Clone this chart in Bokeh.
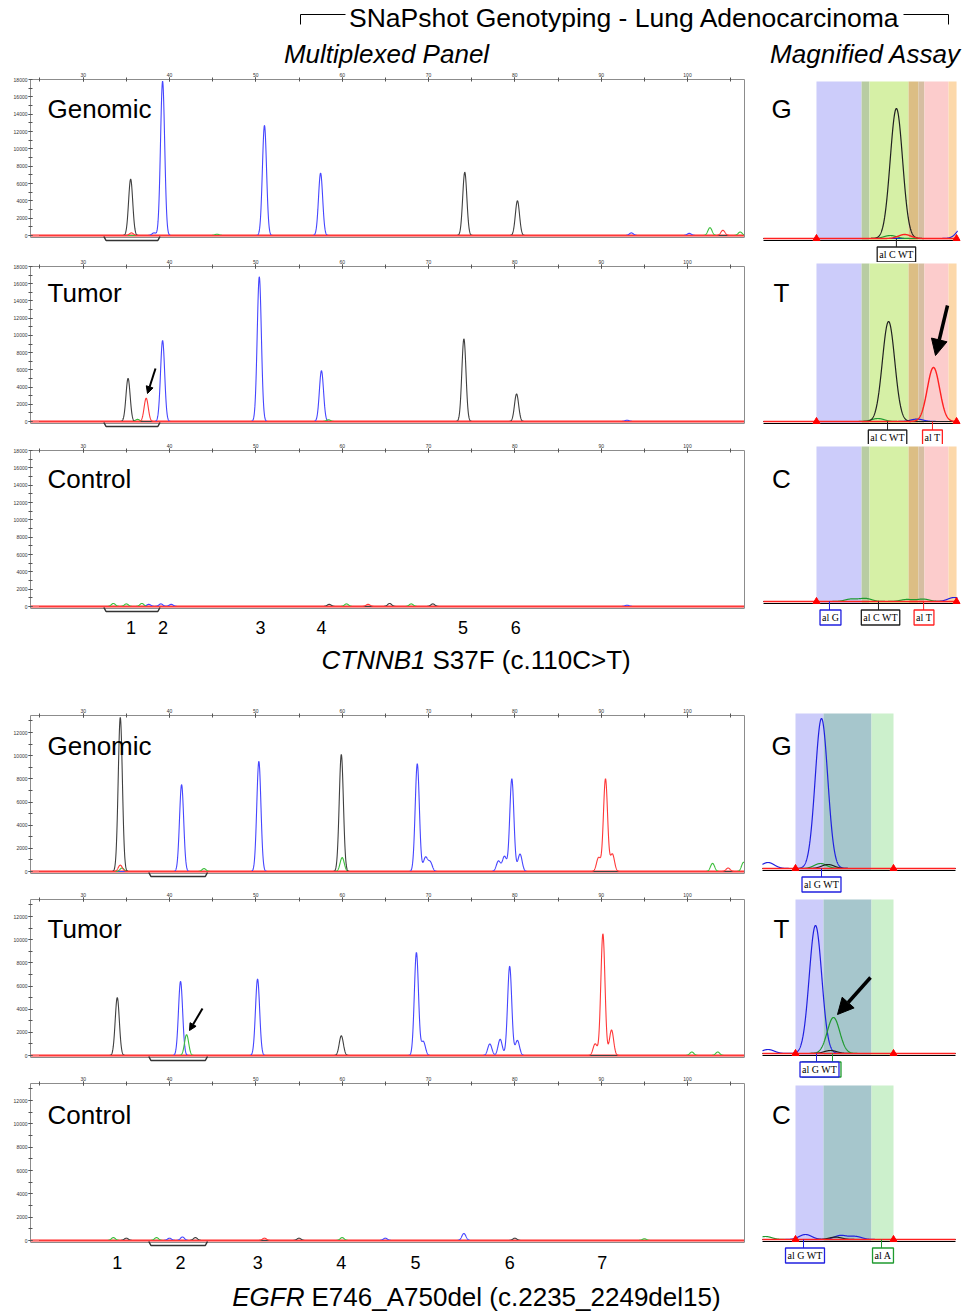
import numpy as np
from bokeh.plotting import figure
from bokeh.models import Range1d, LinearAxis, FixedTicker, Label, Arrow, NormalHead
from bokeh.layouts import column, row
from bokeh.embed import file_html
from bokeh.resources import INLINE
from bokeh.core.properties import value

FONT = "Liberation Sans"
SERIF = "Liberation Serif"

# ---------------------------------------------------------------- data
# Multiplexed panel peaks: size (nt), height (RFU), dye
ct_gen_pos = [35.5, 35.6, 38.2, 39.2, 51.0, 57.5, 74.2, 80.3, 93.5, 100.2, 102.6, 104.1, 106.1, 45.5]
ct_gen_hgt = [6500, 300, 300, 17800, 12700, 7200, 7300, 4000, 300, 250, 900, 600, 400, 150]
ct_gen_dye = ["black", "red", "blue", "blue", "blue", "blue", "black", "black", "blue", "blue", "green", "red", "green", "green"]

ct_tum_pos = [35.2, 37.3, 39.2, 50.4, 57.6, 74.1, 80.2, 36.3, 58.4, 93.0]
ct_tum_hgt = [5000, 2700, 9400, 16800, 5900, 9600, 3200, 250, 200, 150]
ct_tum_dye = ["black", "red", "blue", "blue", "blue", "black", "black", "green", "green", "blue"]

ct_ctl_pos = [33.5, 35.0, 36.8, 37.6, 39.0, 40.2, 58.5, 60.5, 63.0, 65.5, 68.0, 70.5, 93.0]
ct_ctl_hgt = [350, 300, 350, 250, 300, 250, 250, 300, 250, 350, 300, 300, 150]
ct_ctl_dye = ["green", "green", "green", "blue", "blue", "blue", "black", "green", "red", "black", "green", "black", "blue"]

eg_gen_pos = [34.3, 34.3, 34.5, 41.4, 50.35, 59.9, 60.0, 68.7, 69.65, 70.2, 78.1, 78.8, 79.65, 80.6,
              89.7, 90.5, 91.3, 102.9, 104.7, 106.5, 44.0]
eg_gen_hgt = [13300, 550, 300, 7500, 9500, 10100, 1200, 9300, 1200, 800, 900, 1300, 8000, 1500,
              1200, 8000, 1500, 700, 300, 800, 250]
eg_gen_dye = ["black", "red", "green", "blue", "blue", "black", "green", "blue", "blue", "blue", "blue", "blue", "blue", "blue",
              "red", "red", "red", "green", "red", "green", "green"]

eg_tum_pos = [33.95, 41.28, 41.98, 50.2, 59.9, 68.6, 69.4, 77.1, 78.3, 79.4, 80.3, 89.3, 90.2, 91.2, 100.5, 103.5]
eg_tum_hgt = [5000, 6400, 1800, 6600, 1700, 8900, 1200, 1000, 1400, 7700, 1300, 1000, 10500, 2200, 300, 300]
eg_tum_dye = ["black", "blue", "green", "blue", "black", "blue", "blue", "blue", "blue", "blue", "blue", "red", "red", "red", "green", "green"]

eg_ctl_pos = [33.5, 35.0, 38.5, 40.0, 41.5, 43.0, 51.0, 55.0, 60.0, 65.0, 74.1, 80.0, 95.0]
eg_ctl_hgt = [250, 200, 250, 200, 300, 250, 200, 200, 250, 200, 600, 200, 150]
eg_ctl_dye = ["green", "black", "green", "blue", "blue", "black", "red", "black", "green", "blue", "blue", "black", "green"]

# marker numbers under the multiplexed panels
ct_marker_pos = [35.54, 39.24, 50.55, 57.6, 74.0, 80.1]
ct_marker_txt = ["1", "2", "3", "4", "5", "6"]
eg_marker_pos = [33.95, 41.28, 50.23, 59.88, 68.49, 79.42, 90.12]
eg_marker_txt = ["1", "2", "3", "4", "5", "6", "7"]

# region magnified in the right-hand assays (nt)
ct_region = [32.4, 38.9]
eg_region = [37.6, 44.4]

# magnified assay: allele bins (nt) and their colours
ct_bin_left = [31.62, 33.81, 34.19, 36.09, 36.57, 36.86, 38.03]
ct_bin_right = [33.81, 34.19, 36.09, 36.57, 36.86, 38.03, 38.42]
ct_bin_col = ["#ccccfa", "#b8cca2", "#d6f0a6", "#dcbe84", "#d6bea2", "#fccccc", "#fcd8aa"]
eg_bin_left = [40.6, 41.72, 43.64]
eg_bin_right = [41.72, 43.64, 44.52]
eg_bin_col = ["#ccccfa", "#a6c6cc", "#ccf0cc"]

# magnified assay peaks
ctm_gen_pos = [35.5, 35.2, 35.9, 38.8]
ctm_gen_hgt = [6500, 150, 200, 700]
ctm_gen_dye = ["black", "green", "red", "blue"]
ctm_tum_pos = [35.12, 37.30, 34.6, 36.5]
ctm_tum_hgt = [5000, 2700, 150, 120]
ctm_tum_dye = ["black", "red", "green", "blue"]
ctm_ctl_pos = [33.3, 34.0, 36.0, 36.8, 38.3]
ctm_ctl_hgt = [120, 150, 100, 120, 200]
ctm_ctl_dye = ["green", "green", "green", "green", "blue"]

egm_gen_pos = [41.64, 39.5, 41.6, 41.9]
egm_gen_hgt = [7500, 300, 250, 200]
egm_gen_dye = ["blue", "blue", "green", "black"]
egm_tum_pos = [41.4, 42.12, 39.5, 42.0]
egm_tum_hgt = [6400, 1800, 200, 150]
egm_tum_dye = ["blue", "green", "blue", "black"]
egm_ctl_pos = [41.0, 42.4, 43.0, 39.4, 42.2]
egm_ctl_hgt = [250, 200, 150, 150, 120]
egm_ctl_dye = ["blue", "blue", "blue", "green", "black"]

# allele call labels: call position (nt), label-box centre (nt), text, dye
ctm_gen_lab = [(35.5, 35.5, "al C WT", "black")]
ctm_tum_lab = [(35.07, 35.07, "al C WT", "black"), (37.25, 37.25, "al T", "red")]
ctm_ctl_lab = [(32.25, 32.3, "al G", "blue"), (34.63, 34.73, "al C WT", "black"), (36.82, 36.84, "al T", "red")]
egm_gen_lab = [(41.64, 41.64, "al G WT", "blue")]
egm_tum_lab = [(42.08, 41.64, "al G WT", "green"), (41.44, 41.56, "al G WT", "blue")]
egm_ctl_lab = [(40.92, 40.98, "al G WT", "blue"), (44.04, 44.1, "al A", "green")]

MAIN_COL = {"blue": "#4646ff", "green": "#3cbe3c", "black": "#404040", "red": "#ff3838"}
MAG_COL = {"blue": "#2020e0", "green": "#1f9a2f", "black": "#202020", "red": "#ff2020"}
ORDER = ["blue", "green", "black", "red"]

XLO, XHI = 23.9, 106.6
MAIN_W, MAG_W = 755, 213


def trace(x, pos, hgt, dye, which, sigma):
    y = np.zeros_like(x)
    for p_, h_, d_ in zip(pos, hgt, dye):
        if d_ == which:
            y += h_ * np.exp(-0.5 * ((x - p_) / sigma) ** 2)
    return y


def base_fig(**kw):
    p = figure(output_backend="svg", toolbar_location=None, outline_line_color=None, **kw)
    p.frame_align = False
    p.grid.visible = False
    return p


def main_panel(row_top, row_bot, frame_top, base, ymax, ytick_max, pos, hgt, dye, name, name_y,
               region, markers=None, caption=None, arrow=None):
    H = row_bot - row_top
    ypp = ymax / (base - frame_top)
    ylo = -(row_bot - base) * ypp
    xpp = (XHI - XLO) / (744 - 30)

    def Y(px):
        return (base - px) * ypp

    def X(px):
        return XLO + (px - 30) * xpp

    p = base_fig(width=MAIN_W, height=H, x_range=Range1d(XLO, XHI), y_range=Range1d(ylo, ymax),
                 x_axis_location="above",
                 min_border_left=30, min_border_right=11, min_border_top=frame_top - row_top,
                 min_border_bottom=0)
    xa = p.xaxis[0]
    xa.ticker = FixedTicker(ticks=list(range(30, 101, 10)), minor_ticks=list(range(25, 107, 5)))
    ya = p.yaxis[0]
    ya.ticker = FixedTicker(ticks=list(range(0, ytick_max + 1, 2000)),
                            minor_ticks=list(range(0, int(ymax), 1000)))
    ya.bounds = (Y(base + 2), ymax)
    for ax in (xa, ya):
        ax.major_label_text_font_size = "5px"
        ax.major_label_text_color = "#333333"
        ax.major_label_standoff = 1
        ax.axis_line_color = "#8c8c8c"
        ax.major_tick_line_color = "#555555"
        ax.minor_tick_line_color = "#555555"
        ax.major_tick_in = 2
        ax.major_tick_out = 2
        ax.minor_tick_in = 2
        ax.minor_tick_out = 2
    ra = LinearAxis(ticker=FixedTicker(ticks=[]), major_label_text_font_size="0px",
                    major_tick_in=0, major_tick_out=0, minor_tick_in=0, minor_tick_out=0,
                    axis_line_color="#8c8c8c", bounds=(Y(base + 2), ymax))
    p.add_layout(ra, "right")
    # bottom line of the plot box
    p.segment(x0=[XLO], x1=[XHI], y0=[Y(base + 2)], y1=[Y(base + 2)], line_color="#8c8c8c", line_width=1)
    # thick baseline
    p.segment(x0=[XLO], x1=[XHI], y0=[0], y1=[0], line_color="#ff7070", line_width=2.5)

    x = np.linspace(XLO + 1.0, XHI, 4000)
    for d in ORDER:
        y = trace(x, pos, hgt, dye, d, 0.24)
        p.line(x, y, line_color=MAIN_COL[d], line_width=1.1)

    # bracket under magnified region
    by = Y(base + 5)
    bt = Y(base + 1)
    p.line([region[0], region[0] + 0.25, region[1] - 0.25, region[1]], [bt, by, by, bt],
           line_color="#333333", line_width=1.5)

    p.text(x=[X(47)], y=[Y(name_y)], text=[name], text_font=value(FONT),
           text_font_size="26px", text_baseline="middle", text_align="left", text_color="black")

    if markers is not None:
        mpos, mtxt, mpx = markers
        p.text(x=mpos, y=[Y(mpx)] * len(mpos), text=mtxt, text_font=value(FONT),
               text_font_size="18px", text_baseline="middle", text_align="center", text_color="black")
    if caption is not None:
        ital, rest, end_px, start_px, cy = caption
        p.text(x=[X(end_px)], y=[Y(cy)], text=[ital], text_font=value(FONT), text_font_style="italic",
               text_font_size="26px", text_baseline="middle", text_align="right", text_color="black")
        p.text(x=[X(start_px)], y=[Y(cy)], text=[rest], text_font=value(FONT),
               text_font_size="26px", text_baseline="middle", text_align="left", text_color="black")
    if arrow is not None:
        (sx, sy), (ex, ey) = arrow
        p.add_layout(Arrow(end=NormalHead(size=7, fill_color="black", line_color="black"),
                           x_start=X(sx), y_start=Y(sy), x_end=X(ex), y_end=Y(ey),
                           line_width=2, line_color="black"))
    return p


def mag_panel(row_top, row_bot, shade_top, base, x0, ppb, bl, br, bc, pos, hgt, dye, letter, letter_y,
              labels, sigma, x_start_px, x_end_px, arrow=None):
    H = row_bot - row_top
    ypp = 50.0
    ylo = -(row_bot - base) * ypp
    yhi = (base - row_top) * ypp
    xhi = x0 + MAG_W / ppb

    def Y(px):
        return (base - px) * ypp

    def X(px):
        return x0 + (px - 755) / ppb

    p = base_fig(width=MAG_W, height=H, x_range=Range1d(x0, xhi), y_range=Range1d(ylo, yhi),
                 x_axis_location=None, y_axis_location=None, min_border=0)
    p.quad(left=bl, right=br, bottom=Y(base + 2), top=Y(shade_top), fill_color=bc, line_color=None)

    xs, xe = X(x_start_px), X(x_end_px)
    x = np.linspace(xs, xe, 2000)
    p.line([xs, xe], [Y(base + 2), Y(base + 2)], line_color="black", line_width=1.2)
    for d in ORDER:
        y = trace(x, pos, hgt, dye, d, sigma)
        p.line(x, y, line_color=MAG_COL[d], line_width=1.2 if d != "red" else 1.4)
    p.scatter(x=[min(bl), max(br)], y=[0, 0], marker="triangle", size=7, color="red")

    for tx, bx, lt, lc in labels:
        col = MAG_COL[lc]
        p.segment(x0=[tx], x1=[tx], y0=[0], y1=[Y(base + 10)], line_color=col, line_width=1)
        p.add_layout(Label(x=bx, y=Y(base + 16), text=lt, text_align="center", text_baseline="middle",
                           text_font=SERIF, text_font_size="10px", text_color="black",
                           border_line_color=col, border_line_width=1.3,
                           background_fill_color="white", padding=2))
    p.text(x=[X(781)], y=[Y(letter_y)], text=[letter], text_font=value(FONT),
           text_font_size="26px", text_baseline="middle", text_align="center", text_color="black")
    if arrow is not None:
        (sx, sy), (ex, ey) = arrow
        p.add_layout(Arrow(end=NormalHead(size=16, fill_color="black", line_color="black"),
                           x_start=X(sx), y_start=Y(sy), x_end=X(ex), y_end=Y(ey),
                           line_width=3.5, line_color="black"))
    return p


# ---------------------------------------------------------------- header
HDR_H = 69
hdr = base_fig(width=968, height=HDR_H, x_range=Range1d(0, 968), y_range=Range1d(HDR_H, 0),
               x_axis_location=None, y_axis_location=None, min_border=0)
hdr.text(x=[624], y=[17], text=["SNaPshot Genotyping - Lung Adenocarcinoma"], text_font=value(FONT),
         text_font_size="26.5px", text_baseline="middle", text_align="center", text_color="black")
hdr.line([300, 300, 345], [24, 14, 14], line_color="black", line_width=1)
hdr.line([903, 948, 948], [14, 14, 24], line_color="black", line_width=1)
hdr.text(x=[386, 865], y=[53, 53], text=["Multiplexed Panel", "Magnified Assay"], text_font=value(FONT),
         text_font_style="italic", text_font_size="26px", text_baseline="middle", text_align="center",
         text_color="black")

CT_MAX = 18000
EG_MAX = 13470

m1 = main_panel(HDR_H, 250, 79, 235, CT_MAX, 18000, ct_gen_pos, ct_gen_hgt, ct_gen_dye, "Genomic", 108, ct_region)
m2 = main_panel(250, 436, 266, 421, CT_MAX, 18000, ct_tum_pos, ct_tum_hgt, ct_tum_dye, "Tumor", 292, ct_region,
                arrow=((155, 368), (147, 393)))
m3 = main_panel(436, 680, 450, 606, CT_MAX, 18000, ct_ctl_pos, ct_ctl_hgt, ct_ctl_dye, "Control", 478, ct_region,
                markers=(ct_marker_pos, ct_marker_txt, 627),
                caption=("CTNNB1", "S37F (c.110C>T)", 425, 432, 659))
m4 = main_panel(680, 885, 715, 871, EG_MAX, 12000, eg_gen_pos, eg_gen_hgt, eg_gen_dye, "Genomic", 745, eg_region)
m5 = main_panel(885, 1068, 899, 1055, EG_MAX, 12000, eg_tum_pos, eg_tum_hgt, eg_tum_dye, "Tumor", 928, eg_region,
                arrow=((202, 1008), (189, 1030)))
m6 = main_panel(1068, 1312, 1083, 1240, EG_MAX, 12000, eg_ctl_pos, eg_ctl_hgt, eg_ctl_dye, "Control", 1114, eg_region,
                markers=(eg_marker_pos, eg_marker_txt, 1262),
                caption=("EGFR", "E746_A750del (c.2235_2249del15)", 304, 311, 1296))

CT_X0, CT_PPB = 28.66, 20.6
EG_X0, EG_PPB = 39.0, 25.0
g1 = mag_panel(HDR_H, 262, 81, 238, CT_X0, CT_PPB, ct_bin_left, ct_bin_right, ct_bin_col,
               ctm_gen_pos, ctm_gen_hgt, ctm_gen_dye, "G", 108, ctm_gen_lab, 0.3, 763, 957)
g2 = mag_panel(262, 444, 263, 421, CT_X0, CT_PPB, ct_bin_left, ct_bin_right, ct_bin_col,
               ctm_tum_pos, ctm_tum_hgt, ctm_tum_dye, "T", 292, ctm_tum_lab, 0.3, 763, 957,
               arrow=((947, 305), (935, 355)))
g3 = mag_panel(444, 680, 446, 601, CT_X0, CT_PPB, ct_bin_left, ct_bin_right, ct_bin_col,
               ctm_ctl_pos, ctm_ctl_hgt, ctm_ctl_dye, "C", 478, ctm_ctl_lab, 0.3, 763, 957)
g4 = mag_panel(680, 893, 713, 868, EG_X0, EG_PPB, eg_bin_left, eg_bin_right, eg_bin_col,
               egm_gen_pos, egm_gen_hgt, egm_gen_dye, "G", 745, egm_gen_lab, 0.25, 762, 955)
g5 = mag_panel(893, 1080, 899, 1053, EG_X0, EG_PPB, eg_bin_left, eg_bin_right, eg_bin_col,
               egm_tum_pos, egm_tum_hgt, egm_tum_dye, "T", 928, egm_tum_lab, 0.25, 762, 955,
               arrow=((870, 977), (837, 1014)))
g6 = mag_panel(1080, 1312, 1085, 1239, EG_X0, EG_PPB, eg_bin_left, eg_bin_right, eg_bin_col,
               egm_ctl_pos, egm_ctl_hgt, egm_ctl_dye, "C", 1114, egm_ctl_lab, 0.25, 762, 955)

layout = column(hdr,
                row(column(m1, m2, m3, m4, m5, m6, spacing=0),
                    column(g1, g2, g3, g4, g5, g6, spacing=0), spacing=0),
                spacing=0)

open("out.html", "w").write(file_html(layout, INLINE))
